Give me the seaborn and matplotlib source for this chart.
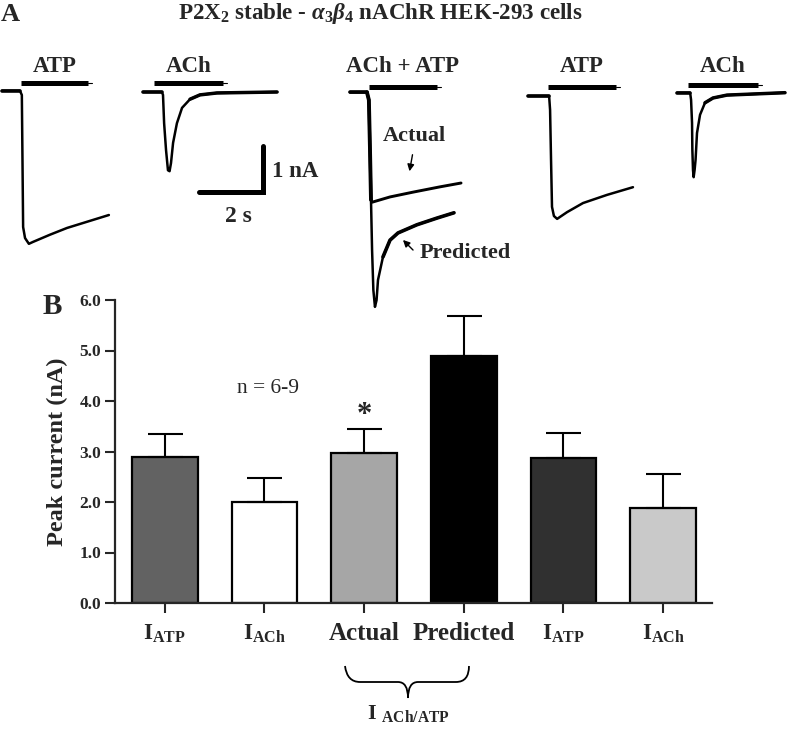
import numpy as np
import pandas as pd
import matplotlib
matplotlib.use("Agg")
import matplotlib.pyplot as plt
from matplotlib.path import Path
from matplotlib.patches import PathPatch
import seaborn as sns

# ---------------- data ----------------
bar_ids = ["ATP1", "ACh1", "Actual", "Predicted", "ATP2", "ACh2"]
bar_labels = [r"$\mathrm{I}_{\mathrm{ATP}}$", r"$\mathrm{I}_{\mathrm{ACh}}$", "Actual", "Predicted",
              r"$\mathrm{I}_{\mathrm{ATP}}$", r"$\mathrm{I}_{\mathrm{ACh}}$"]
peak_current = [2.90, 2.00, 2.98, 4.89, 2.88, 1.89]
sem_upper = [0.45, 0.48, 0.47, 0.79, 0.48, 0.67]
bar_colors = ["#626262", "#ffffff", "#a6a6a6", "#000000", "#303030", "#c9c9c9"]
yticks = [0.0, 1.0, 2.0, 3.0, 4.0, 5.0, 6.0]

# current traces (time in s, current in nA)
atp1_t = [0, 0.56, 0.62, 0.64, 0.66, 0.72, 0.84, 0.97, 1.5, 2.03, 2.66, 3.34]
atp1_i = [0, 0, -0.09, -1.44, -2.84, -3.07, -3.19, -3.15, -3.00, -2.86, -2.73, -2.59]
ach1_t = [0, 0.59, 0.625, 0.66, 0.72, 0.78, 0.83, 0.875, 0.94, 1.06, 1.22, 1.47, 1.78, 2.31, 4.19]
ach1_i = [0, 0, -0.06, -0.65, -1.21, -1.63, -1.65, -1.48, -1.06, -0.65, -0.33, -0.15, -0.06, -0.02, 0]
actual_t = [0, 0.53, 0.59, 0.625, 0.656, 0.69, 1.25, 1.97, 2.81, 3.47]
actual_i = [0, 0, -0.16, -1.2, -2.24, -2.29, -2.18, -2.08, -1.97, -1.89]
pred_t = [0.656, 0.69, 0.73, 0.78, 0.83, 0.875, 1.03, 1.25, 1.5, 2.09, 2.72, 3.25]
pred_i = [-2.24, -3.29, -4.12, -4.47, -4.33, -3.91, -3.43, -3.08, -2.93, -2.76, -2.62, -2.51]
atp2_t = [0, 0.66, 0.69, 0.72, 0.75, 0.81, 0.91, 1.22, 1.72, 2.47, 3.28]
atp2_i = [0, 0, -0.29, -1.33, -2.31, -2.50, -2.56, -2.42, -2.23, -2.06, -1.90]
ach2_t = [0, 0.41, 0.44, 0.47, 0.48, 0.50, 0.52, 0.55, 0.58, 0.625, 0.72, 0.875, 1.125, 1.56, 3.375]
ach2_i = [0, 0, -0.15, -0.63, -1.19, -1.61, -1.76, -1.61, -1.40, -0.84, -0.46, -0.21, -0.11, -0.05, 0]

trace_labels = ["ATP", "ACh", "ACh + ATP", "ATP", "ACh"]

# ---------------- style ----------------
sns.set_style("ticks")
plt.rcParams["font.family"] = ["Liberation Serif", "DejaVu Serif"]
plt.rcParams["font.weight"] = "bold"
plt.rcParams["mathtext.fontset"] = "custom"
plt.rcParams["mathtext.rm"] = "Liberation Serif:bold"
plt.rcParams["mathtext.it"] = "Liberation Serif:bold:italic"
plt.rcParams["mathtext.bf"] = "Liberation Serif:bold"

W, H = 787, 729
fig = plt.figure(figsize=(W / 100, H / 100), dpi=100)

# ---------------- panel B: bar chart ----------------
ax = fig.add_axes([115 / W, 126 / H, (712 - 115) / W, (603 - 300) / H])
df = pd.DataFrame({"id": bar_ids, "val": peak_current})
sns.barplot(data=df, x="id", y="val", hue="id", order=bar_ids, hue_order=bar_ids,
            palette=dict(zip(bar_ids, bar_colors)), legend=False, width=0.66,
            edgecolor="black", linewidth=1.6, errorbar=None, ax=ax)
ax.errorbar(np.arange(len(bar_ids)), peak_current,
            yerr=[np.zeros(len(bar_ids)), sem_upper], fmt="none", ecolor="black",
            elinewidth=1.5, capsize=12.6, capthick=1.5, zorder=4)
ax.set_xlim(-0.5, 5.49)
ax.set_ylim(0, 6.0)
ax.set_yticks(yticks)
ax.set_yticklabels([f"{v:.1f}" for v in yticks], fontsize=12.5, fontweight="bold")
ax.set_xticks(np.arange(len(bar_ids)))
ax.set_xticklabels(bar_labels, fontweight="bold")
for lbl, txt in zip(ax.get_xticklabels(), bar_labels):
    lbl.set_fontsize(16.5 if txt.startswith("$") else 18)
ax.tick_params(axis="both", width=1.5, length=7, direction="out")
ax.tick_params(axis="x", pad=7)
ax.tick_params(axis="y", pad=3)
for s in ["left", "bottom"]:
    ax.spines[s].set_linewidth(1.6)
sns.despine(ax=ax)
ax.set_xlabel("")
ax.set_ylabel("Peak current (nA)", fontsize=17.5, fontweight="bold", labelpad=8)
ax.text(1.04, 4.25, "n = 6-9", fontsize=15.5, fontweight="normal", ha="center", va="center")
ax.text(2, 3.47 + 0.24, "*", fontsize=22, fontweight="bold", ha="center", va="center")

# ---------------- overlay in pixel coordinates ----------------
ov = fig.add_axes([0, 0, 1, 1])
ov.set_xlim(0, W)
ov.set_ylim(H, 0)
ov.axis("off")

PX_S, PX_NA = 32.0, 48.0  # pixels per second and per nA (from the scale bar)


def trace(t, i, ox, oy, lw=1.8):
    x = ox + np.asarray(t) * PX_S
    y = oy - np.asarray(i) * PX_NA
    ov.plot(x, y, color="black", lw=lw, solid_capstyle="round", solid_joinstyle="round")
    return x, y


origins = [(2, 90.7), (143, 92), (350, 92.3), (528, 96), (677, 92.7)]
trace(atp1_t, atp1_i, *origins[0])
trace(ach1_t, ach1_i, *origins[1])
trace(actual_t, actual_i, *origins[2], lw=2.1)
trace(pred_t, pred_i, *origins[2], lw=1.8)
trace(pred_t[6:], pred_i[6:], *origins[2], lw=2.6)
trace(actual_t[1:5], actual_i[1:5], *origins[2], lw=2.8)
trace(atp2_t, atp2_i, *origins[3])
trace(ach2_t, ach2_i, *origins[4])
# thicker noisy baselines
for (ox, oy), t0 in zip(origins, [0.56, 0.59, 0.53, 0.66, 0.41]):
    ov.plot([ox, ox + t0 * PX_S], [oy, oy], color="black", lw=2.6)
trace(ach1_t[-4:], ach1_i[-4:], *origins[1], lw=2.5)
trace(ach2_t[-4:], ach2_i[-4:], *origins[4], lw=2.5)

# drug application bars and labels
app_bars = [(21, 88, 83), (154, 223, 83), (369, 437, 87), (548, 616, 87), (688, 758, 85)]
for (x0, x1, y), lab in zip(app_bars, trace_labels):
    ov.plot([x0, x1], [y, y], color="black", lw=3.6, solid_capstyle="butt")
    ov.plot([x1, x1 + 4], [y, y], color="black", lw=0.8)
    ov.text((x0 + x1) / 2, 66, lab, fontsize=16.5, fontweight="bold", ha="center", va="center")

# scale bar
ov.plot([199, 263, 263], [192, 192, 146], color="black", lw=3.6, solid_joinstyle="miter")
ov.text(272, 171, "1 nA", fontsize=16.5, fontweight="bold", ha="left", va="center")
ov.text(238, 216, "2 s", fontsize=17, fontweight="bold", ha="center", va="center")

# annotations
ov.annotate("", xy=(409, 174), xytext=(413, 152),
            arrowprops=dict(arrowstyle="-|>", color="black", lw=1.0, mutation_scale=10))
ov.text(414, 136, "Actual", fontsize=16, fontweight="bold", ha="center", va="center")
ov.annotate("", xy=(401, 238), xytext=(415, 252),
            arrowprops=dict(arrowstyle="-|>", color="black", lw=1.0, mutation_scale=10))
ov.text(420, 253, "Predicted", fontsize=16, fontweight="bold", ha="left", va="center")

# titles / panel letters
ov.text(10, 14, "A", fontsize=19, fontweight="bold", ha="center", va="center")
ov.text(380, 13, r"P2X$_2$ stable - $\alpha_3\beta_4$ nAChR HEK-293 cells", fontsize=16.6,
        fontweight="bold", ha="center", va="center")
ov.text(52, 306, "B", fontsize=21, fontweight="bold", ha="center", va="center")

# curly brace under Actual / Predicted
verts = [(345, 666), (347, 682), (360, 682),
         (398, 682), (408, 682), (408, 698),
         (408, 682), (418, 682),
         (456, 682), (469, 682), (469, 666)]
codes = [Path.MOVETO, Path.CURVE3, Path.CURVE3,
         Path.LINETO, Path.CURVE3, Path.CURVE3,
         Path.CURVE3, Path.CURVE3,
         Path.LINETO, Path.CURVE3, Path.CURVE3]
ov.add_patch(PathPatch(Path(verts, codes), facecolor="none", edgecolor="black", lw=1.3))
ov.text(408, 714, r"$\mathrm{I}\ _{\mathrm{ACh/ATP}}$", fontsize=16, ha="center", va="center")

fig.savefig("out.png", dpi=100)
